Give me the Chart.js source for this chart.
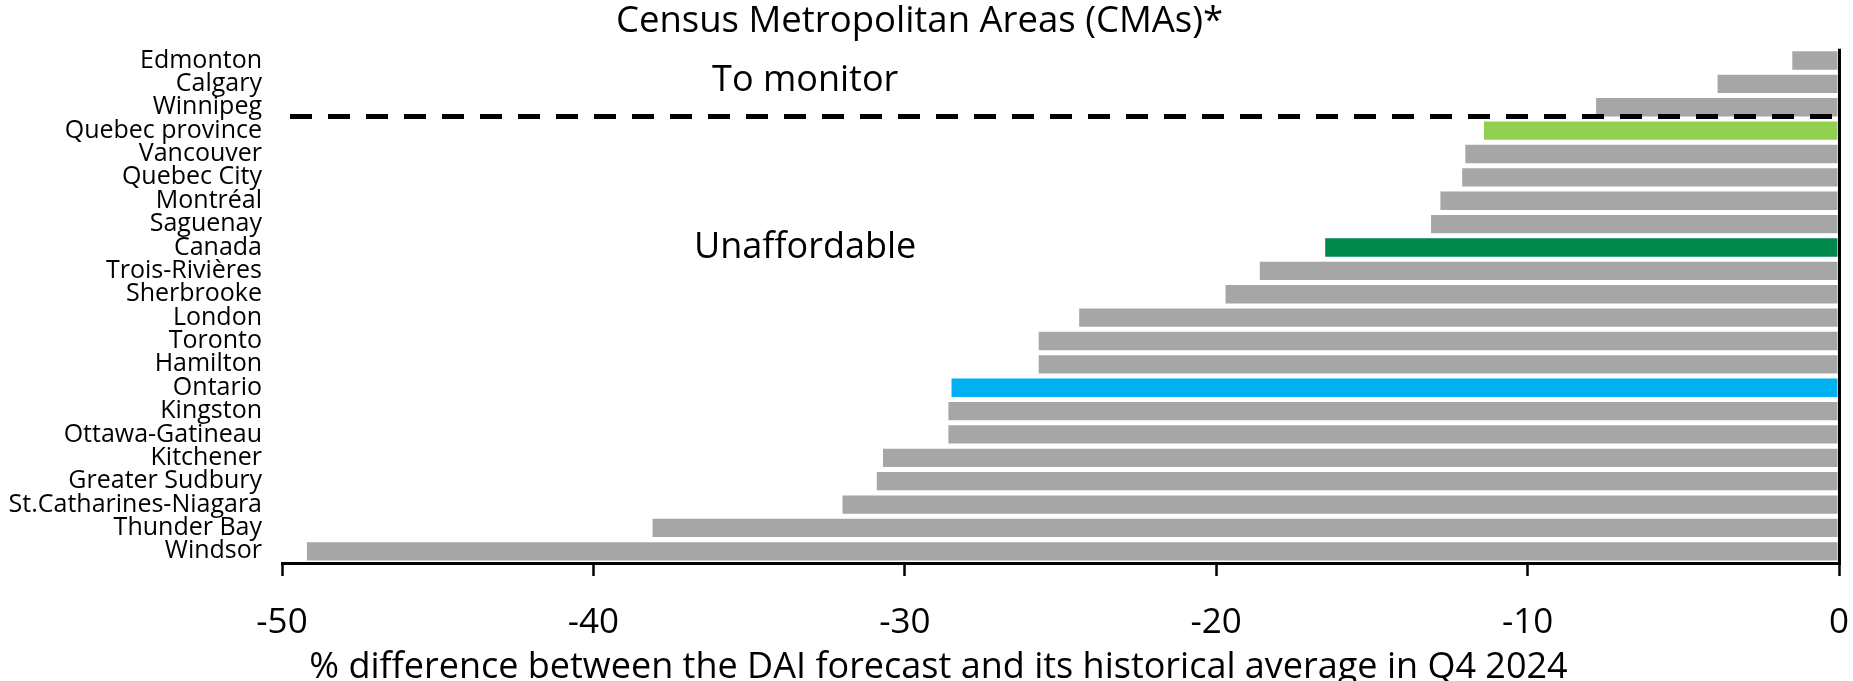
<!DOCTYPE html>
<html>
<head>
<meta charset="utf-8">
<script src="https://cdn.jsdelivr.net/npm/chart.js@4"></script>
<style>
    html, body { margin: 0; padding: 0; background: #fff; }
    #wrap { width: 1853px; height: 681px; }
</style>
</head>
<body>
<div id="wrap"><canvas id="daiChart"></canvas></div>
<script>
// categories, top to bottom
const cities = ['Edmonton', 'Calgary', 'Winnipeg', 'Quebec province', 'Vancouver', 'Quebec City',
    'Montréal', 'Saguenay', 'Canada', 'Trois-Rivières', 'Sherbrooke', 'London', 'Toronto',
    'Hamilton', 'Ontario', 'Kingston', 'Ottawa-Gatineau', 'Kitchener', 'Greater Sudbury',
    'St.Catharines-Niagara', 'Thunder Bay', 'Windsor'];

// % difference between the DAI forecast and its historical average, Q4 2024
const gaps = [-1.5, -3.9, -7.8, -11.4, -12.0, -12.1, -12.8, -13.1, -16.5, -18.6, -19.7, -24.4,
    -25.7, -25.7, -28.5, -28.6, -28.6, -30.7, -30.9, -32.0, -38.1, -49.2];

const xTicks = [-50, -40, -30, -20, -10, 0];

// highlighted aggregates
const highlight = {
    'Quebec province': '#92D050',
    'Canada': '#00884C',
    'Ontario': '#00B0F0'
};
const barColors = cities.map(c => highlight[c] || '#A6A6A6');

const FONT = '"Open Sans", "Noto Sans", sans-serif';
const xTitle = '% difference between the DAI forecast and its historical average in Q4 2024';

// dashed "to monitor" separator, zone labels and the x axis title
const zonePlugin = {
    id: 'zones',
    afterDatasetsDraw(chart) {
        const c = chart.ctx;
        const x = chart.scales.x;
        const y = chart.scales.y;
        const area = chart.chartArea;

        c.save();
        c.strokeStyle = '#000';
        c.lineWidth = 5;
        c.setLineDash([22, 16]);
        const yLine = y.getPixelForValue(2.4);
        c.beginPath();
        c.moveTo(area.left + 8, yLine);
        c.lineTo(area.right, yLine);
        c.stroke();
        c.restore();

        c.save();
        c.fillStyle = '#000';
        c.font = '36px ' + FONT;
        c.textAlign = 'center';
        c.textBaseline = 'middle';
        c.fillText('To monitor', x.getPixelForValue(-33.2), y.getPixelForValue(0.85));
        c.fillText('Unaffordable', x.getPixelForValue(-33.2), y.getPixelForValue(8));

        // axis title sits centred on the whole figure, not on the plot
        c.textBaseline = 'alphabetic';
        c.fillText(xTitle, chart.width / 2 + 12, chart.height - 3);
        c.restore();
    }
};

const ctx = document.getElementById('daiChart').getContext('2d');
const daiChart = new Chart(ctx, {
    type: 'bar',
    data: {
        labels: cities,
        datasets: [{
            data: gaps,
            backgroundColor: barColors,
            borderWidth: 0,
            categoryPercentage: 1,
            barPercentage: 0.785
        }]
    },
    options: {
        indexAxis: 'y',
        responsive: true,
        maintainAspectRatio: false,
        animation: false,
        layout: { padding: { left: 0, right: 14, top: 0, bottom: 0 } },
        plugins: {
            legend: { display: false },
            tooltip: { enabled: false },
            title: {
                display: true,
                text: 'Census Metropolitan Areas (CMAs)*',
                color: '#000',
                font: { family: FONT, size: 36.5, weight: 'normal', lineHeight: 1.2 },
                padding: { top: 0, bottom: 5 }
            }
        },
        scales: {
            x: {
                min: -50,
                max: 0,
                afterBuildTicks(scale) {
                    scale.ticks = xTicks.map(v => ({ value: v }));
                },
                afterFit(scale) {
                    scale.height = 118;
                    scale.paddingLeft = 0;
                    scale.paddingRight = 0;
                },
                border: { display: true, color: '#000', width: 3 },
                grid: {
                    drawOnChartArea: true,
                    color: c => (c.tick && c.tick.value === 0 ? '#000' : 'rgba(0,0,0,0)'),
                    lineWidth: 3,
                    tickColor: '#000',
                    tickLength: 13,
                    tickWidth: 2.5
                },
                ticks: {
                    color: '#000',
                    padding: 26,
                    maxRotation: 0,
                    font: { family: FONT, size: 35 }
                }
            },
            y: {
                afterFit(scale) { scale.width = 282; },
                border: { display: false },
                grid: { display: false, drawTicks: false },
                ticks: {
                    color: '#000',
                    padding: 20,
                    autoSkip: false,
                    font: { family: FONT, size: 25 }
                }
            }
        }
    },
    plugins: [zonePlugin]
});
</script>
</body>
</html>
